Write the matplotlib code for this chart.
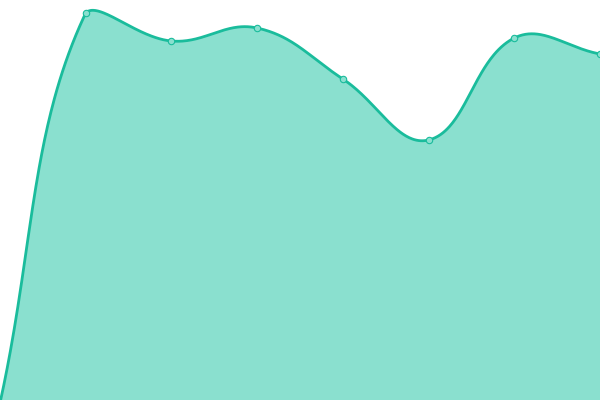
import numpy as np
import matplotlib
matplotlib.use("Agg")
import matplotlib.pyplot as plt

# values (0..400 scale)
x_idx = [0, 1, 2, 3, 4, 5, 6, 7]
values = [-3, 387, 359, 372, 321, 260, 362, 346]

line_color = "#1abc9c"
fill_color = "#8ae0cf"
tension = 0.4

fig = plt.figure(figsize=(6, 4), dpi=100)
ax = fig.add_axes([0, 0, 1, 1])
ax.set_xlim(0, 7)
ax.set_ylim(0, 400)
ax.axis("off")

# spline control points like chart.js (tension + capped to the plot area), in display coords
pts = ax.transData.transform(np.column_stack([x_idx, values]))
lo = ax.transData.transform((0, 0))
hi = ax.transData.transform((7, 400))
n = len(pts)
cp_in, cp_out = [], []
for i in range(n):
    cur = pts[i]
    prev = pts[i - 1] if i > 0 else cur
    nxt = pts[i + 1] if i < n - 1 else cur
    d01 = np.hypot(*(cur - prev))
    d12 = np.hypot(*(nxt - cur))
    tot = d01 + d12
    s01 = d01 / tot if tot else 0
    s12 = d12 / tot if tot else 0
    c1 = cur - tension * s01 * (nxt - prev)
    c2 = cur + tension * s12 * (nxt - prev)
    cp_in.append(np.clip(c1, lo, hi))
    cp_out.append(np.clip(c2, lo, hi))

t = np.linspace(0, 1, 80)[:, None]
curve = []
for i in range(n - 1):
    p0, c0, c1, p1 = pts[i], cp_out[i], cp_in[i + 1], pts[i + 1]
    seg = (1 - t) ** 3 * p0 + 3 * (1 - t) ** 2 * t * c0 + 3 * (1 - t) * t ** 2 * c1 + t ** 3 * p1
    curve.append(seg if i == 0 else seg[1:])
curve = ax.transData.inverted().transform(np.vstack(curve))

ax.fill_between(curve[:, 0], curve[:, 1], 0, color=fill_color, linewidth=0)
ax.plot(curve[:, 0], curve[:, 1], color=line_color, linewidth=2.0, solid_capstyle="round")
ax.plot(x_idx, values, "o", markersize=4.6, markerfacecolor=fill_color,
        markeredgecolor=line_color, markeredgewidth=0.8)

fig.savefig("out.png", dpi=100)
